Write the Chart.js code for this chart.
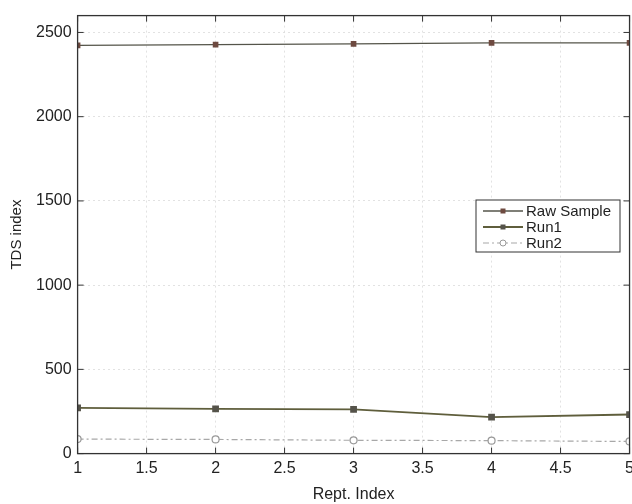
<!DOCTYPE html>
<html>
<head>
<meta charset="utf-8">
<script src="https://cdn.jsdelivr.net/npm/chart.js@4"></script>
<style>
  html, body { margin: 0; padding: 0; background: #fff; overflow: hidden; }
  #wrap { width: 639px; height: 504px; }
</style>
</head>
<body>
<div id="wrap"><canvas id="tds"></canvas></div>
<script>
const reptIndex = [1, 2, 3, 4, 5];
const rawSample = [2423, 2428, 2432, 2438, 2438];
const run1 = [272, 266, 262, 216, 232];
const run2 = [86, 84, 79, 77, 72];
const xTicks = [1, 1.5, 2, 2.5, 3, 3.5, 4, 4.5, 5];
const yTicks = [0, 500, 1000, 1500, 2000, 2500];

const toPoints = ys => reptIndex.map((x, i) => ({ x: x, y: ys[i] }));
const FONT = '"Liberation Sans", Arial, sans-serif';

// frame, inward ticks and legend box, like the original figure
const framePlugin = {
    id: 'frame',
    afterDraw(chart) {
        const { ctx, chartArea: a, scales } = chart;
        ctx.save();
        ctx.strokeStyle = '#333';
        ctx.lineWidth = 1.3;
        ctx.strokeRect(a.left, a.top, a.right - a.left, a.bottom - a.top);

        ctx.lineWidth = 1;
        xTicks.forEach(v => {
            const px = scales.x.getPixelForValue(v);
            ctx.beginPath();
            ctx.moveTo(px, a.bottom); ctx.lineTo(px, a.bottom - 6);
            ctx.moveTo(px, a.top); ctx.lineTo(px, a.top + 6);
            ctx.stroke();
        });
        yTicks.forEach(v => {
            const py = scales.y.getPixelForValue(v);
            ctx.beginPath();
            ctx.moveTo(a.left, py); ctx.lineTo(a.left + 6, py);
            ctx.moveTo(a.right, py); ctx.lineTo(a.right - 6, py);
            ctx.stroke();
        });

        // legend
        const bx = 476, by = 200, bw = 144, bh = 52;
        ctx.fillStyle = '#fff';
        ctx.fillRect(bx, by, bw, bh);
        ctx.strokeStyle = '#333';
        ctx.lineWidth = 1;
        ctx.strokeRect(bx, by, bw, bh);
        ctx.font = '15px ' + FONT;
        ctx.textBaseline = 'middle';
        chart.data.datasets.forEach((ds, i) => {
            const y = by + 11 + i * 16;
            ctx.strokeStyle = ds.borderColor;
            ctx.lineWidth = ds.borderWidth;
            ctx.setLineDash(ds.borderDash || []);
            ctx.beginPath();
            ctx.moveTo(bx + 7, y); ctx.lineTo(bx + 47, y);
            ctx.stroke();
            ctx.setLineDash([]);
            ctx.fillStyle = ds.pointBackgroundColor;
            ctx.strokeStyle = ds.pointBorderColor;
            ctx.lineWidth = 1;
            ctx.beginPath();
            if (ds.pointStyle === 'circle') {
                ctx.arc(bx + 27, y, 3, 0, Math.PI * 2);
                ctx.fill();
                ctx.stroke();
            } else {
                ctx.rect(bx + 24.5, y - 2.5, 5, 5);
                ctx.fill();
            }
            ctx.fillStyle = '#222';
            ctx.fillText(ds.label, bx + 50, y + 1);
        });
        ctx.restore();
    }
};

new Chart(document.getElementById('tds'), {
    type: 'line',
    data: {
        datasets: [{
            label: 'Raw Sample',
            data: toPoints(rawSample),
            borderColor: '#55554a',
            borderWidth: 1.4,
            pointStyle: 'rect',
            pointRadius: 3,
            pointBackgroundColor: '#6e4a40',
            pointBorderColor: '#6e4a40',
            fill: false
        }, {
            label: 'Run1',
            data: toPoints(run1),
            borderColor: '#5f5e3c',
            borderWidth: 1.8,
            pointStyle: 'rect',
            pointRadius: 3.5,
            pointBackgroundColor: '#55534a',
            pointBorderColor: '#55534a',
            fill: false
        }, {
            label: 'Run2',
            data: toPoints(run2),
            borderColor: '#a8a8a8',
            borderWidth: 1.2,
            borderDash: [6, 3, 2, 3],
            pointStyle: 'circle',
            pointRadius: 3.5,
            pointBackgroundColor: '#ffffff',
            pointBorderColor: '#999999',
            fill: false
        }]
    },
    options: {
        responsive: true,
        maintainAspectRatio: false,
        animation: false,
        layout: { padding: { top: 11, left: 8, right: 0, bottom: 0 } },
        plugins: {
            legend: { display: false },
            tooltip: { enabled: false }
        },
        scales: {
            x: {
                type: 'linear',
                min: 1,
                max: 5,
                afterBuildTicks: axis => { axis.ticks = xTicks.map(v => ({ value: v })); },
                ticks: {
                    color: '#222',
                    padding: 5,
                    maxRotation: 0,
                    callback: v => String(v),
                    font: { family: FONT, size: 16 }
                },
                grid: { color: '#dadada', tickLength: 0, lineWidth: 0.8 },
                border: { display: false, dash: [2, 3] },
                title: {
                    display: true,
                    text: 'Rept. Index',
                    color: '#222',
                    padding: { top: 2, bottom: 0 },
                    font: { family: FONT, size: 16 }
                }
            },
            y: {
                min: 0,
                max: 2600,
                afterBuildTicks: axis => { axis.ticks = yTicks.map(v => ({ value: v })); },
                ticks: {
                    color: '#222',
                    padding: 6,
                    callback: v => String(v),
                    font: { family: FONT, size: 16 }
                },
                grid: { color: '#dadada', tickLength: 0, lineWidth: 0.8 },
                border: { display: false, dash: [2, 3] },
                title: {
                    display: true,
                    text: 'TDS index',
                    color: '#222',
                    padding: { top: 0, bottom: 4 },
                    font: { family: FONT, size: 15 }
                }
            }
        }
    },
    plugins: [framePlugin]
});
</script>
</body>
</html>
